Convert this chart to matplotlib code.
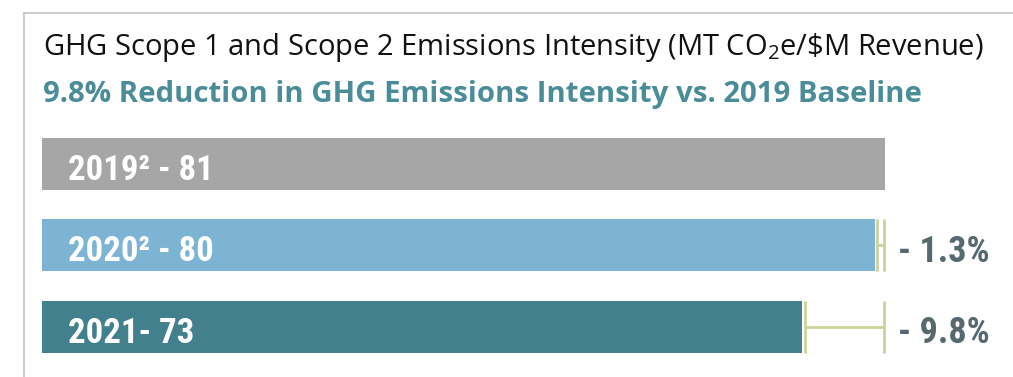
import matplotlib
matplotlib.use("Agg")
import matplotlib.pyplot as plt
from matplotlib import font_manager
from matplotlib.lines import Line2D

# ---- data ----
bar_labels = ["2019\u00b2 - 81", "2020\u00b2 - 80", "2021- 73"]
values = [81, 80, 73]
change_labels = ["", "- 1.3%", "- 9.8%"]
title = "GHG Scope 1 and Scope 2 Emissions Intensity (MT CO$_2$e/\\$M Revenue)"
subtitle = "9.8% Reduction in GHG Emissions Intensity vs. 2019 Baseline"

bar_colors = ["#a6a6a6", "#7db4d3", "#43808e"]
bracket_color = "#c9d39b"
pct_color = "#56696f"
sub_color = "#4a8c98"

avail = {f.name for f in font_manager.fontManager.ttflist}
cond = next((f for f in ["Liberation Sans Narrow", "Roboto Condensed", "Roboto"] if f in avail), "DejaVu Sans")

plt.rcParams["mathtext.fontset"] = "custom"
plt.rcParams["mathtext.rm"] = "Open Sans"
plt.rcParams["mathtext.default"] = "regular"

W, H = 1013, 377
fig = plt.figure(figsize=(W / 100, H / 100), dpi=100)

# frame lines
fig.add_artist(Line2D([23.5 / W, 23.5 / W], [0, 1 - 12.5 / H], transform=fig.transFigure,
                      color="#c4c4c4", lw=1.2))
fig.add_artist(Line2D([23.5 / W, 1], [1 - 12.5 / H, 1 - 12.5 / H], transform=fig.transFigure,
                      color="#c4c4c4", lw=1.2))

fig.text(43 / W, 1 - 55 / H, title, fontsize=21, family="Open Sans", color="#111111",
         va="baseline", ha="left")
fig.text(43 / W, 1 - 102 / H, subtitle, fontsize=21.2, family="Open Sans", weight="bold",
         color=sub_color, va="baseline", ha="left")

px_per_unit = 10.41
ax_left = 42
ax = fig.add_axes([ax_left / W, (H - 367.75) / H, (W - ax_left) / W, 244.75 / H])
ax.set_xlim(0, (W - ax_left) / px_per_unit)
ax.set_ylim(2.5, -0.5)
ax.axis("off")

ypos = list(range(len(values)))
ax.barh(ypos, values, height=0.64, color=bar_colors, edgecolor="none")

for y, lab in zip(ypos, bar_labels):
    ax.text(2.45, y + 0.195, lab, color="white", fontsize=25, family=cond, weight="bold",
            va="baseline", ha="left")

base = values[0]
half = 0.32
for y, v, lab in zip(ypos, values, change_labels):
    if not lab:
        continue
    x1 = v + 0.25
    x2 = base - 0.15
    ax.plot([x1, x1], [y - half, y + half], color=bracket_color, lw=2, solid_capstyle="butt")
    ax.plot([x2, x2], [y - half, y + half], color=bracket_color, lw=2, solid_capstyle="butt")
    ax.plot([x1, x2], [y, y], color=bracket_color, lw=2, solid_capstyle="butt")
    ax.text(base + 1.25, y + 0.2, lab, color=pct_color, fontsize=26, family=cond, weight="bold",
            va="baseline", ha="left")

fig.savefig("out.png", dpi=100)
